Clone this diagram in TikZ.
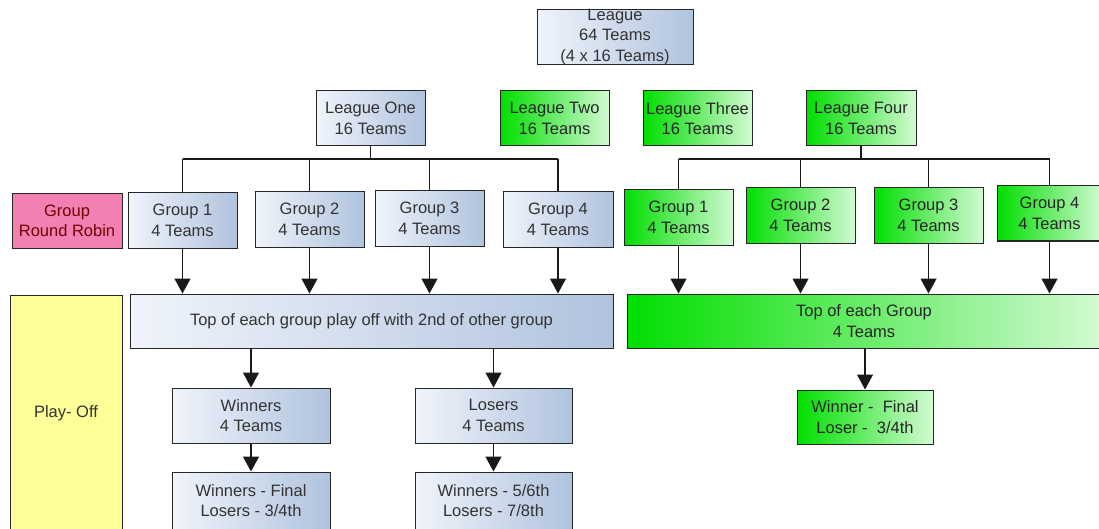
\documentclass[tikz,border=0pt]{standalone}
\usepackage{fontspec}
\setmainfont{Liberation Sans}
\usepackage{tikz}
\usetikzlibrary{arrows.meta, shapes}
\definecolor{blueL}{RGB}{240,244,251}
\definecolor{blueR}{RGB}{176,195,222}
\definecolor{greenL}{RGB}{0,222,0}
\definecolor{greenR}{RGB}{210,250,210}
\definecolor{pinkbox}{RGB}{242,128,178}
\definecolor{yellowbox}{RGB}{255,255,153}
\tikzset{
	box/.style={rectangle, draw=black!85, line width=1pt, align=center, inner sep=0pt,
		font=\fontsize{16.5}{20.5}\selectfont, text=black!80},
	bluebox/.style={box, left color=blueL, right color=blueR},
	greenbox/.style={box, left color=greenL, right color=greenR, text=black!85},
	link/.style={line width=1.3pt, black!90},
	arr/.style={link, -{Triangle[width=16pt,length=15pt]}},
}
\begin{document}
\begin{tikzpicture}[x=1pt, y=1pt]
	\useasboundingbox (0,0) rectangle (1099,-529);
	% top level
	\node[bluebox, minimum width=156, minimum height=54] (league) at (615,-37) {League\\64 Teams\\(4 x 16 Teams)};
	\node[bluebox, minimum width=109, minimum height=55] (one) at (370.5,-118.5) {League One\\16 Teams};
	\node[greenbox, minimum width=109, minimum height=55] (two) at (554.5,-118.5) {League Two\\16 Teams};
	\node[greenbox, minimum width=109, minimum height=55] (three) at (697.5,-118.5) {League Three\\16 Teams};
	\node[greenbox, minimum width=110, minimum height=55] (four) at (861,-118.5) {League Four\\16 Teams};
	% group stage
	\node[box, fill=pinkbox, text=red!45!black, minimum width=110, minimum height=54] (rr) at (67,-221) {Group\\Round Robin};
	\node[bluebox, minimum width=109, minimum height=55] (g1) at (182.5,-220.5) {Group 1\\4 Teams};
	\node[bluebox, minimum width=109, minimum height=55] (g2) at (309.5,-219.5) {Group 2\\4 Teams};
	\node[bluebox, minimum width=109, minimum height=55] (g3) at (429.5,-218.5) {Group 3\\4 Teams};
	\node[bluebox, minimum width=110, minimum height=55] (g4) at (558,-219.5) {Group 4\\4 Teams};
	\node[greenbox, minimum width=109, minimum height=55] (h1) at (678.5,-217.5) {Group 1\\4 Teams};
	\node[greenbox, minimum width=109, minimum height=55] (h2) at (800.5,-215.5) {Group 2\\4 Teams};
	\node[greenbox, minimum width=109, minimum height=55] (h3) at (928.5,-215.5) {Group 3\\4 Teams};
	\node[greenbox, minimum width=105, minimum height=55] (h4) at (1049.5,-213.5) {Group 4\\4 Teams};
	% play-off
	\node[box, fill=yellowbox, minimum width=112, minimum height=236] (po) at (66,-413) {Play- Off};
	\node[bluebox, minimum width=483, minimum height=54] (topL) at (371.5,-321) {Top of each group play off with 2nd of other group};
	\node[greenbox, minimum width=474, minimum height=54] (topR) at (864,-321) {Top of each Group\\4 Teams};
	\node[bluebox, minimum width=158, minimum height=55] (win) at (251,-415.5) {Winners\\4 Teams};
	\node[bluebox, minimum width=157, minimum height=55] (lose) at (493.5,-415.5) {Losers\\4 Teams};
	\node[bluebox, minimum width=158, minimum height=57] (winfin) at (251,-500.5) {Winners - Final\\Losers - 3/4th};
	\node[bluebox, minimum width=157, minimum height=57] (losefin) at (493.5,-500.5) {Winners - 5/6th\\Losers - 7/8th};
	\node[greenbox, minimum width=136, minimum height=54] (gfin) at (865,-417) {Winner -\ \ Final\\Loser -\ \ 3/4th};
	% connectors
	\coordinate (busL) at (0,-159);
	\coordinate (busR) at (0,-159);
	\draw[link] (one.south) -- (one.south |- busL);
	\draw[link] (g1.north |- busL) -- (g4.north |- busL);
	\foreach \g in {g1,g2,g3,g4}
		\draw[link] (\g.north |- busL) -- (\g.north);
	\draw[link] (four.south) -- (four.south |- busR);
	\draw[link] (h1.north |- busR) -- (h4.north |- busR);
	\foreach \g in {h1,h2,h3,h4}
		\draw[link] (\g.north |- busR) -- (\g.north);
	\foreach \g in {g1,g2,g3,g4}
		\draw[arr] (\g.south) -- (\g.south |- topL.north);
	\foreach \g in {h1,h2,h3,h4}
		\draw[arr] (\g.south) -- (\g.south |- topR.north);
	\draw[arr] (win.north |- topL.south) -- (win.north);
	\draw[arr] (lose.north |- topL.south) -- (lose.north);
	\draw[arr] (win.south) -- (winfin.north);
	\draw[arr] (lose.south) -- (losefin.north);
	\draw[arr] (gfin.north |- topR.south) -- (gfin.north);
\end{tikzpicture}
\end{document}
